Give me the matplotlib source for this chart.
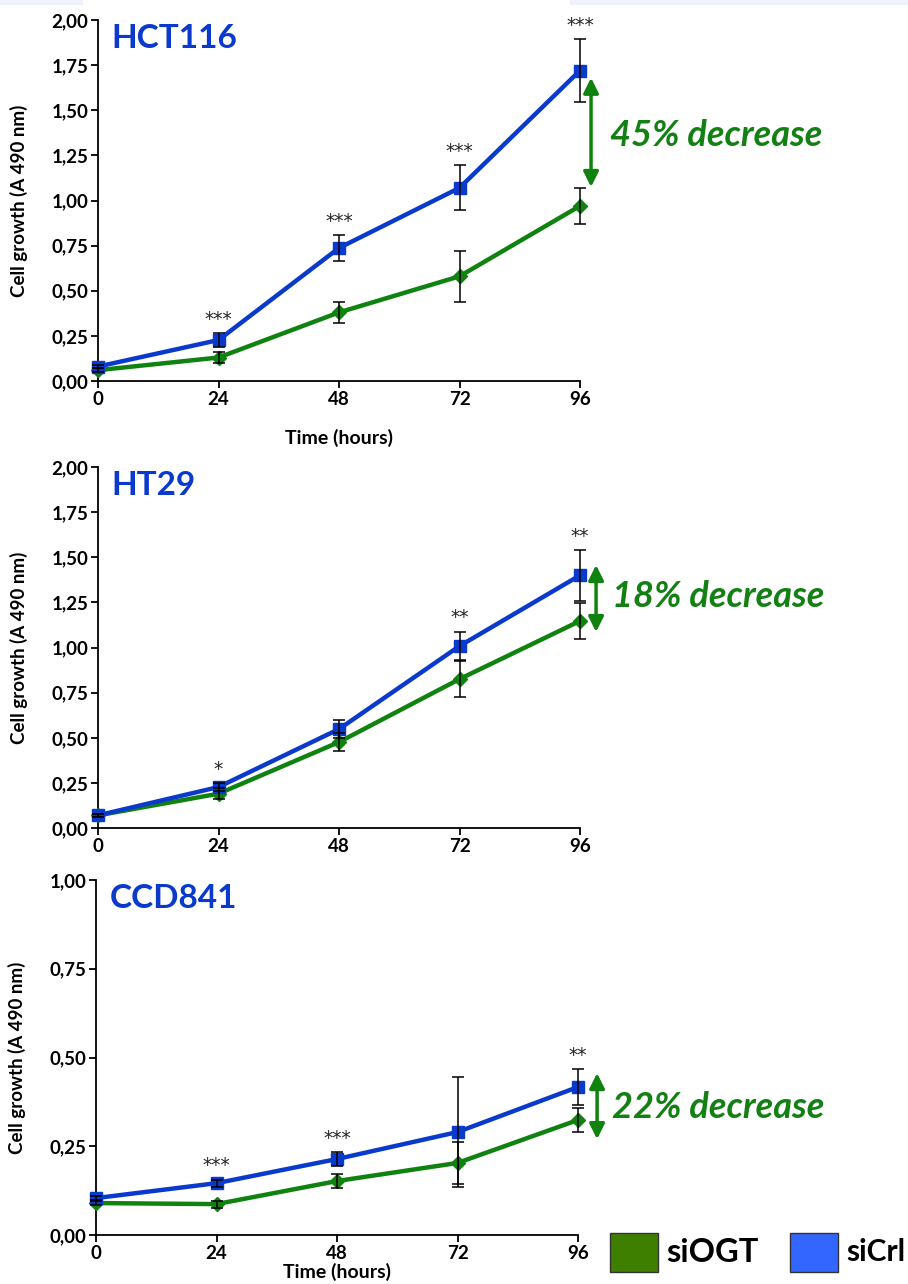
import matplotlib
matplotlib.use("Agg")
import matplotlib.pyplot as plt
from matplotlib.patches import Rectangle

plt.rcParams['font.family'] = ['Lato', 'DejaVu Sans']

hours = [0, 24, 48, 72, 96]
x_ticks = [0, 24, 48, 72, 96]

# HCT116
hct_crl = [0.08, 0.227, 0.737, 1.07, 1.72]
hct_crl_err = [0.01, 0.04, 0.07, 0.125, 0.175]
hct_ogt = [0.06, 0.13, 0.38, 0.58, 0.97]
hct_ogt_err = [0.01, 0.03, 0.06, 0.14, 0.10]
hct_stars = ["", "***", "***", "***", "***"]

# HT29
ht_crl = [0.07, 0.227, 0.548, 1.008, 1.40]
ht_crl_err = [0.01, 0.02, 0.05, 0.08, 0.14]
ht_ogt = [0.07, 0.19, 0.476, 0.825, 1.147]
ht_ogt_err = [0.01, 0.03, 0.05, 0.10, 0.10]
ht_stars = ["", "*", "", "**", "**"]

# CCD841
ccd_crl = [0.104, 0.146, 0.214, 0.29, 0.417]
ccd_crl_err = [0.005, 0.01, 0.02, 0.155, 0.05]
ccd_ogt = [0.09, 0.087, 0.152, 0.203, 0.324]
ccd_ogt_err = [0.005, 0.01, 0.02, 0.06, 0.033]
ccd_stars = ["", "***", "***", "", "**"]

panels = [
    dict(name="HCT116", crl=hct_crl, crl_err=hct_crl_err, ogt=hct_ogt, ogt_err=hct_ogt_err,
         stars=hct_stars, ylim=2.0, yticks=[0, 0.25, 0.5, 0.75, 1.0, 1.25, 1.5, 1.75, 2.0],
         pct="45% decrease", arrow=(98.2, 1.68, 1.075), txt=(102.0, 1.36),
         rect=[98/908, 1-381/1284, 482/908, 361/1284], xlabel=True, labelpad=15),
    dict(name="HT29", crl=ht_crl, crl_err=ht_crl_err, ogt=ht_ogt, ogt_err=ht_ogt_err,
         stars=ht_stars, ylim=2.0, yticks=[0, 0.25, 0.5, 0.75, 1.0, 1.25, 1.5, 1.75, 2.0],
         pct="18% decrease", arrow=(99.2, 1.457, 1.086), txt=(102.4, 1.28),
         rect=[98/908, 1-828/1284, 482/908, 361/1284], xlabel=False, labelpad=0),
    dict(name="CCD841", crl=ccd_crl, crl_err=ccd_crl_err, ogt=ccd_ogt, ogt_err=ccd_ogt_err,
         stars=ccd_stars, ylim=1.0, yticks=[0, 0.25, 0.5, 0.75, 1.0],
         pct="22% decrease", arrow=(99.8, 0.456, 0.27), txt=(102.8, 0.358),
         rect=[96/908, 1-1235/1284, 482/908, 355/1284], xlabel=True, labelpad=1),
]

blue = "#0a3acc"
green = "#0f820f"
title_blue = "#0a3acc"
text_green = "#138013"

fig = plt.figure(figsize=(9.08, 12.84), dpi=100)
fig.patches.append(Rectangle((0, 1-5/1284), 83/908, 5/1284, transform=fig.transFigure,
                             facecolor="#eef2fa", edgecolor="none"))
fig.patches.append(Rectangle((570/908, 1-5/1284), 338/908, 5/1284, transform=fig.transFigure,
                             facecolor="#eef2fa", edgecolor="none"))

for p in panels:
    ax = fig.add_axes(p["rect"])
    ax.plot(hours, p["ogt"], color=green, lw=3.2, marker="D", ms=7, clip_on=False, zorder=3)
    ax.plot(hours, p["crl"], color=blue, lw=3.2, marker="s", ms=9, clip_on=False, zorder=4)
    ax.errorbar(hours, p["ogt"], yerr=p["ogt_err"], fmt="none", ecolor="black",
                elinewidth=1.1, capsize=4, capthick=1.1, clip_on=False, zorder=5)
    ax.errorbar(hours, p["crl"], yerr=p["crl_err"], fmt="none", ecolor="black",
                elinewidth=1.1, capsize=4, capthick=1.1, clip_on=False, zorder=5)
    for h, v, e, s in zip(hours, p["crl"], p["crl_err"], p["stars"]):
        if s:
            ax.annotate(s, (h, v + e), xytext=(0, 3), textcoords="offset points",
                        ha="center", va="bottom", fontsize=13.5, color="#222222",
                        family="DejaVu Sans")
    ax.set_xlim(0, 96)
    ax.set_ylim(0, p["ylim"])
    ax.set_xticks(x_ticks)
    ax.set_xticklabels([str(t) for t in x_ticks], fontsize=13.5, fontweight="bold")
    ax.set_yticks(p["yticks"])
    ax.set_yticklabels([f"{t:.2f}".replace(".", ",") for t in p["yticks"]],
                       fontsize=13.5, fontweight="bold")
    for side in ("top", "right"):
        ax.spines[side].set_visible(False)
    for side in ("left", "bottom"):
        ax.spines[side].set_linewidth(1.3)
    ax.tick_params(direction="out", length=5, width=1.3, pad=2)
    ax.set_ylabel("Cell growth (A 490 nm)", fontsize=13.5, fontweight="bold")
    ax.yaxis.set_label_coords(-0.145, 0.5)
    if p["xlabel"]:
        ax.set_xlabel("Time (hours)", fontsize=14, fontweight="bold", labelpad=p["labelpad"])
    ax.text(0.028, 0.99, p["name"], transform=ax.transAxes, ha="left", va="top",
            fontsize=24, fontweight="bold", color=title_blue)
    ax_x, top, bot = p["arrow"]
    ax.annotate("", xy=(ax_x, top), xytext=(ax_x, bot),
                arrowprops=dict(arrowstyle="<|-|>,head_length=0.9,head_width=0.45",
                                color=green, lw=2.5, shrinkA=0, shrinkB=0),
                annotation_clip=False)
    ax.text(p["txt"][0], p["txt"][1], p["pct"], ha="left", va="center", fontsize=26,
            fontweight="bold", fontstyle="italic", color=text_green, clip_on=False)

# legend
fig.patches.append(Rectangle((610/908, 1-1272/1284), 48/908, 39/1284, transform=fig.transFigure,
                             facecolor="#3f7f00", edgecolor="#333333", lw=1))
fig.text(666/908, 1-1252/1284, "siOGT", ha="left", va="center", fontsize=23.5, fontweight="bold")
fig.patches.append(Rectangle((790/908, 1-1272/1284), 48/908, 39/1284, transform=fig.transFigure,
                             facecolor="#3366ff", edgecolor="#333333", lw=1))
fig.text(846/908, 1-1252/1284, "siCrl", ha="left", va="center", fontsize=21.5, fontweight="bold")

fig.savefig("out.png", dpi=100)
